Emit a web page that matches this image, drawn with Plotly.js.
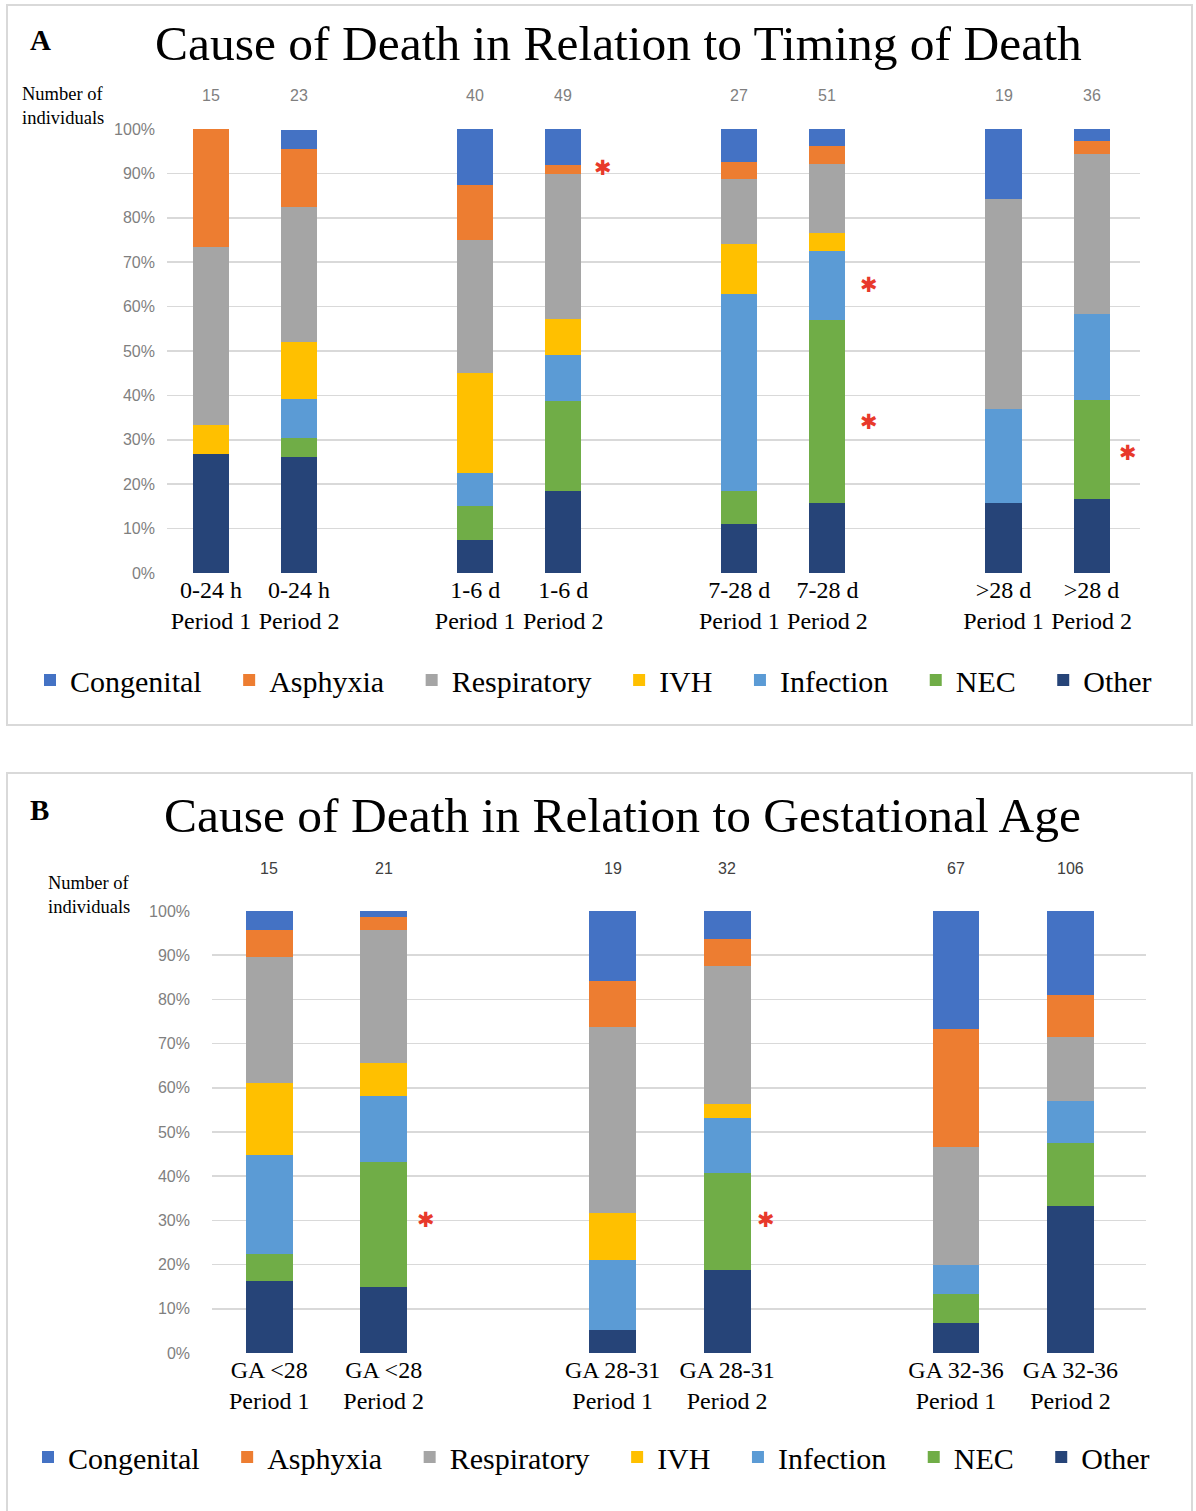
<!DOCTYPE html>
<html>
<head>
<meta charset="utf-8">
<script src="https://cdn.plot.ly/plotly-3.0.1.min.js"></script>
<style>
html,body{margin:0;padding:0;background:#fff;}
#chart{width:1196px;height:1511px;}
</style>
</head>
<body>
<div id="chart"></div>
<script>
// ---------- DATA ----------
const causes = ["Other", "NEC", "Infection", "IVH", "Respiratory", "Asphyxia", "Congenital"]; // bottom -> top
const colors = ["#264478", "#70AD47", "#5B9BD5", "#FFC000", "#A5A5A5", "#ED7D31", "#4472C4"];

// Panel A: timing of death
const catsA = ["0-24 h<br>Period 1", "0-24 h<br>Period 2", "1-6 d<br>Period 1", "1-6 d<br>Period 2",
               "7-28 d<br>Period 1", "7-28 d<br>Period 2", "&gt;28 d<br>Period 1", "&gt;28 d<br>Period 2"];
const posA = [0, 1, 3, 4, 6, 7, 9, 10];
const nA = [15, 23, 40, 49, 27, 51, 19, 36];
const otherA       = [26.7, 26.1, 7.5, 18.4, 11.1, 15.7, 15.8, 16.7];
const necA         = [0, 4.3, 7.5, 20.4, 7.4, 41.2, 0, 22.2];
const infectionA   = [0, 8.7, 7.5, 10.2, 44.4, 15.7, 21.1, 19.4];
const ivhA         = [6.7, 13.0, 22.5, 8.2, 11.1, 3.9, 0, 0];
const respiratoryA = [40.0, 30.4, 30.0, 32.7, 14.8, 15.7, 47.4, 36.1];
const asphyxiaA    = [26.7, 13.0, 12.5, 2.0, 3.7, 3.9, 0, 2.8];
const congenitalA  = [0, 4.3, 12.5, 8.2, 7.4, 3.9, 15.8, 2.8];
const starsA = [[4.45, 91.2], [7.47, 64.9], [7.47, 34.0], [10.41, 27.0]];

// Panel B: gestational age
const catsB = ["GA &lt;28<br>Period 1", "GA &lt;28<br>Period 2", "GA 28-31<br>Period 1", "GA 28-31<br>Period 2",
               "GA 32-36<br>Period 1", "GA 32-36<br>Period 2"];
const posB = [0, 1, 3, 4, 6, 7];
const nB = [15, 21, 19, 32, 67, 106];
const otherB       = [16.3, 14.9, 5.3, 18.75, 6.7, 33.3];
const necB         = [6.1, 28.4, 0, 21.9, 6.7, 14.3];
const infectionB   = [22.4, 14.9, 15.8, 12.5, 6.6, 9.5];
const ivhB         = [16.3, 7.5, 10.5, 3.1, 0, 0];
const respiratoryB = [28.6, 29.9, 42.1, 31.25, 26.7, 14.3];
const asphyxiaB    = [6.1, 3.0, 10.5, 6.25, 26.7, 9.5];
const congenitalB  = [4.1, 1.5, 15.8, 6.25, 26.6, 19.0];
const starsB = [[1.37, 30.1], [4.34, 30.1]];

const yTicks = [0, 10, 20, 30, 40, 50, 60, 70, 80, 90, 100];
const yTickText = yTicks.map(v => v + "%");

// ---------- BUILD ----------
const W = 1196, H = 1511;
const px = v => v / W;
const py = v => 1 - v / H;
const SERIF = "'Liberation Serif', 'Times New Roman', serif";
const SANS = "'Liberation Sans', Arial, sans-serif";
const PAD = "\u00a0\u00a0\u00a0";

const seriesA = [otherA, necA, infectionA, ivhA, respiratoryA, asphyxiaA, congenitalA];
const seriesB = [otherB, necB, infectionB, ivhB, respiratoryB, asphyxiaB, congenitalB];

const traces = [];
causes.forEach((c, i) => {
  traces.push({type: "bar", name: c + (i > 0 ? PAD : ""), x: posA, y: seriesA[i], width: 0.41,
    marker: {color: colors[i], line: {width: 0}}, xaxis: "x", yaxis: "y", legend: "legend", hoverinfo: "name+y"});
});
causes.forEach((c, i) => {
  traces.push({type: "bar", name: c + (i > 0 ? PAD : ""), x: posB, y: seriesB[i], width: 0.41,
    marker: {color: colors[i], line: {width: 0}}, xaxis: "x2", yaxis: "y2", legend: "legend2", hoverinfo: "name+y"});
});

const annotations = [];
// panel letters
annotations.push({text: "<b>A</b>", xref: "paper", yref: "paper", x: px(28), y: py(40), xanchor: "left", yanchor: "middle",
  showarrow: false, font: {family: SERIF, size: 29, color: "#000"}});
annotations.push({text: "<b>B</b>", xref: "paper", yref: "paper", x: px(28), y: py(810), xanchor: "left", yanchor: "middle",
  showarrow: false, font: {family: SERIF, size: 29, color: "#000"}});
// titles
annotations.push({text: "Cause of Death in Relation to Timing of Death", xref: "paper", yref: "paper", x: px(618), y: py(43),
  xanchor: "center", yanchor: "middle", showarrow: false, font: {family: SERIF, size: 49.5, color: "#000"}});
annotations.push({text: "Cause of Death in Relation to Gestational Age", xref: "paper", yref: "paper", x: px(622), y: py(815),
  xanchor: "center", yanchor: "middle", showarrow: false, font: {family: SERIF, size: 49.5, color: "#000"}});
// Number of individuals
annotations.push({text: "Number of<br>individuals", xref: "paper", yref: "paper", x: px(20), y: py(106), xanchor: "left",
  yanchor: "middle", align: "left", showarrow: false, font: {family: SERIF, size: 18.5, color: "#000"}});
annotations.push({text: "Number of<br>individuals", xref: "paper", yref: "paper", x: px(46), y: py(895), xanchor: "left",
  yanchor: "middle", align: "left", showarrow: false, font: {family: SERIF, size: 18.5, color: "#000"}});
// n labels
posA.forEach((p, i) => annotations.push({text: String(nA[i]), xref: "x", yref: "paper", x: p, y: py(96),
  xanchor: "center", yanchor: "middle", showarrow: false, font: {family: SANS, size: 16, color: "#7f7f7f"}}));
posB.forEach((p, i) => annotations.push({text: String(nB[i]), xref: "x2", yref: "paper", x: p, y: py(868),
  xanchor: "center", yanchor: "middle", showarrow: false, font: {family: SANS, size: 16, color: "#404040"}}));
// asterisks
starsA.forEach(s => annotations.push({text: "\u2731", xref: "x", yref: "y", x: s[0], y: s[1], xanchor: "center", yanchor: "middle",
  showarrow: false, font: {family: "'DejaVu Sans', sans-serif", size: 21, color: "#E8392B"}}));
starsB.forEach(s => annotations.push({text: "\u2731", xref: "x2", yref: "y2", x: s[0], y: s[1], xanchor: "center", yanchor: "middle",
  showarrow: false, font: {family: "'DejaVu Sans', sans-serif", size: 21, color: "#E8392B"}}));

const shapes = [
  {type: "rect", xref: "paper", yref: "paper", x0: px(7), x1: px(1192), y0: py(725), y1: py(5),
   line: {color: "#d9d9d9", width: 2}, fillcolor: "rgba(0,0,0,0)", layer: "below"},
  {type: "rect", xref: "paper", yref: "paper", x0: px(7), x1: px(1192), y0: py(1530), y1: py(773),
   line: {color: "#d9d9d9", width: 2}, fillcolor: "rgba(0,0,0,0)", layer: "below"}
];

const yAxisBase = {range: [0, 100], tickvals: yTicks, ticktext: yTickText, showgrid: true, gridcolor: "#d9d9d9", gridwidth: 1.5,
  zeroline: false, showline: false, ticks: "", tickfont: {family: SANS, size: 16, color: "#7f7f7f"}, fixedrange: true};
const xAxisBase = {showgrid: false, zeroline: false, showline: false, ticks: "",
  tickfont: {family: SERIF, size: 24, color: "#000"}, fixedrange: true};

const legendBase = {orientation: "h", xanchor: "left", yanchor: "middle", traceorder: "reversed",
  font: {family: SERIF, size: 30, color: "#000"}, bgcolor: "rgba(0,0,0,0)", itemclick: false, itemdoubleclick: false};

const layout = {
  width: W, height: H, margin: {l: 0, r: 0, t: 0, b: 0}, paper_bgcolor: "#fff", plot_bgcolor: "rgba(0,0,0,0)",
  barmode: "stack", showlegend: true,
  xaxis: Object.assign({}, xAxisBase, {domain: [px(167), px(1140)], range: [-0.5, 10.55], tickvals: posA, ticktext: catsA, anchor: "y"}),
  yaxis: Object.assign({}, yAxisBase, {domain: [py(573), py(129)], anchor: "x", ticklabelstandoff: 11}),
  xaxis2: Object.assign({}, xAxisBase, {domain: [px(212), px(1146)], range: [-0.5, 7.66], tickvals: posB, ticktext: catsB, anchor: "y2"}),
  yaxis2: Object.assign({}, yAxisBase, {domain: [py(1353), py(911)], anchor: "x2", ticklabelstandoff: 21}),
  legend: Object.assign({}, legendBase, {x: px(30), y: py(680)}),
  legend2: Object.assign({}, legendBase, {x: px(28), y: py(1457)}),
  annotations: annotations,
  shapes: shapes
};

Plotly.newPlot("chart", traces, layout, {displayModeBar: false, staticPlot: true});
</script>
</body>
</html>
